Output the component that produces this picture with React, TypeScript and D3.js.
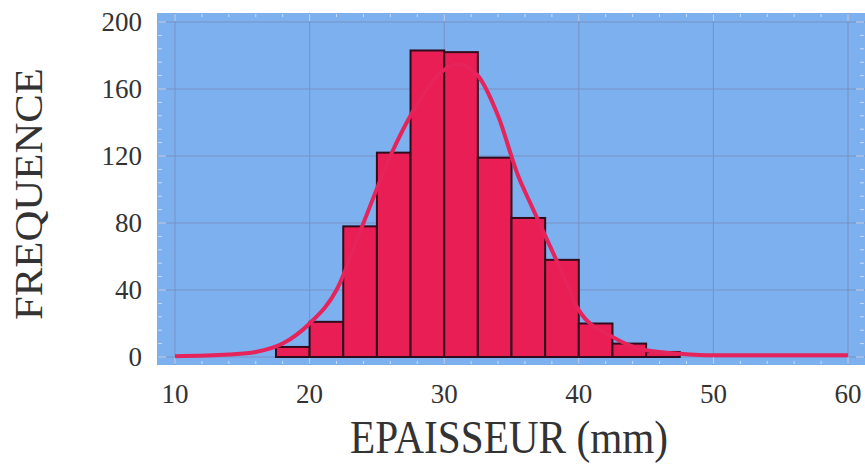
import React, { useEffect, useRef } from 'react'
import * as d3 from 'd3'

// histogram bins (lower edge, mm) and counts
const binStarts = [17.5, 20, 22.5, 25, 27.5, 30, 32.5, 35, 37.5, 40, 42.5, 45]
const counts = [6, 21, 78, 122, 183, 182, 119, 83, 58, 20, 8, 3]
const binWidth = 2.5

// fitted curve
const curveX = [10, 14, 16, 18, 20, 22, 24, 26, 27.7, 29.5, 31, 32.5, 34, 35.5, 36.5, 38.5, 40, 42.5, 45, 47.5, 50, 60]
const curveY = [0.5, 1.5, 3, 8, 20, 40, 80, 120, 147, 168, 175, 168, 144, 108, 90, 55, 28, 12, 4, 2, 1, 1]

const xTicks = [10, 20, 30, 40, 50, 60]
const yTicks = [0, 40, 80, 120, 160, 200]

const W = 865
const H = 465
const plot = { left: 157, top: 13, right: 865, bottom: 365 }

const App: React.FC = () => {
  const svgRef = useRef<SVGSVGElement | null>(null)

  useEffect(() => {
    if (!svgRef.current) return
    const svg = d3.select(svgRef.current)
    svg.selectAll('*').remove()

    const x = d3.scaleLinear().domain([10, 60]).range([175, 848])
    const y = d3.scaleLinear().domain([0, 200]).range([357, 22])

    // background
    svg
      .append('rect')
      .attr('x', plot.left)
      .attr('y', plot.top)
      .attr('width', plot.right - plot.left)
      .attr('height', plot.bottom - plot.top)
      .attr('fill', '#7db0ef')

    // grid
    const grid = svg.append('g').attr('stroke', '#7688b8').attr('stroke-width', 1).attr('opacity', 0.75)
    grid
      .selectAll('line.v')
      .data(xTicks)
      .join('line')
      .attr('class', 'v')
      .attr('x1', (d) => x(d))
      .attr('x2', (d) => x(d))
      .attr('y1', plot.top)
      .attr('y2', plot.bottom)
    grid
      .selectAll('line.h')
      .data(yTicks)
      .join('line')
      .attr('class', 'h')
      .attr('x1', plot.left)
      .attr('x2', plot.right)
      .attr('y1', (d) => y(d))
      .attr('y2', (d) => y(d))

    // small white edge ticks
    const ticks = svg.append('g').attr('stroke', '#e8f0ff').attr('stroke-width', 1).attr('opacity', 0.7)
    const yMinor = d3.range(0, 201, 8)
    ticks
      .selectAll('line.l')
      .data(yMinor)
      .join('line')
      .attr('class', 'l')
      .attr('x1', plot.left + 1)
      .attr('x2', (d) => plot.left + (d % 40 === 0 ? 9 : 5))
      .attr('y1', (d) => y(d))
      .attr('y2', (d) => y(d))
    ticks
      .selectAll('line.r')
      .data(yMinor)
      .join('line')
      .attr('class', 'r')
      .attr('x1', plot.right - 1)
      .attr('x2', (d) => plot.right - (d % 40 === 0 ? 9 : 5))
      .attr('y1', (d) => y(d))
      .attr('y2', (d) => y(d))
    const xMinor = d3.range(10, 60.1, 2)
    ticks
      .selectAll('line.b')
      .data(xMinor)
      .join('line')
      .attr('class', 'b')
      .attr('x1', (d) => x(d))
      .attr('x2', (d) => x(d))
      .attr('y1', plot.bottom - 1)
      .attr('y2', (d) => plot.bottom - (d % 10 === 0 ? 8 : 4))
    ticks
      .selectAll('line.t')
      .data(xMinor)
      .join('line')
      .attr('class', 't')
      .attr('x1', (d) => x(d))
      .attr('x2', (d) => x(d))
      .attr('y1', plot.top + 1)
      .attr('y2', (d) => plot.top + (d % 10 === 0 ? 8 : 4))

    // bars
    svg
      .append('g')
      .selectAll('rect')
      .data(counts)
      .join('rect')
      .attr('x', (_, i) => x(binStarts[i]))
      .attr('y', (d) => y(d))
      .attr('width', (_, i) => x(binStarts[i] + binWidth) - x(binStarts[i]))
      .attr('height', (d) => y(0) - y(d))
      .attr('fill', '#e81e55')
      .attr('stroke', '#300c1c')
      .attr('stroke-width', 2)

    // curve (same red as the bars, so it blends in where it crosses them)
    const line = d3
      .line<number>()
      .x((_, i) => x(curveX[i]))
      .y((d) => y(d))
      .curve(d3.curveMonotoneX)
    svg
      .append('path')
      .datum(curveY)
      .attr('d', line)
      .attr('fill', 'none')
      .attr('stroke', '#e6235a')
      .attr('stroke-width', 4)

    const font = '"Liberation Serif", "DejaVu Serif", serif'

    // y tick labels
    svg
      .append('g')
      .selectAll('text')
      .data(yTicks)
      .join('text')
      .attr('x', 142)
      .attr('y', (d) => y(d))
      .attr('dy', '0.35em')
      .attr('text-anchor', 'end')
      .attr('font-family', font)
      .attr('font-size', 27)
      .attr('fill', '#333')
      .text((d) => d.toString())

    // x tick labels
    svg
      .append('g')
      .selectAll('text')
      .data(xTicks)
      .join('text')
      .attr('x', (d) => x(d))
      .attr('y', 403)
      .attr('text-anchor', 'middle')
      .attr('font-family', font)
      .attr('font-size', 27)
      .attr('fill', '#333')
      .text((d) => d.toString())

    // axis titles
    svg
      .append('text')
      .attr('x', 509)
      .attr('y', 453)
      .attr('text-anchor', 'middle')
      .attr('font-family', font)
      .attr('font-size', 46)
      .attr('textLength', 318)
      .attr('lengthAdjust', 'spacingAndGlyphs')
      .attr('fill', '#333')
      .text('EPAISSEUR (mm)')

    svg
      .append('text')
      .attr('transform', 'translate(42,194) rotate(-90)')
      .attr('text-anchor', 'middle')
      .attr('font-family', font)
      .attr('font-size', 41)
      .attr('textLength', 252)
      .attr('lengthAdjust', 'spacingAndGlyphs')
      .attr('fill', '#333')
      .text('FREQUENCE')
  }, [])

  return (
    <svg
      ref={svgRef}
      width={W}
      height={H}
      style={{ position: 'absolute', left: 0, top: 0, background: '#fff' }}
    ></svg>
  )
}

export default App
